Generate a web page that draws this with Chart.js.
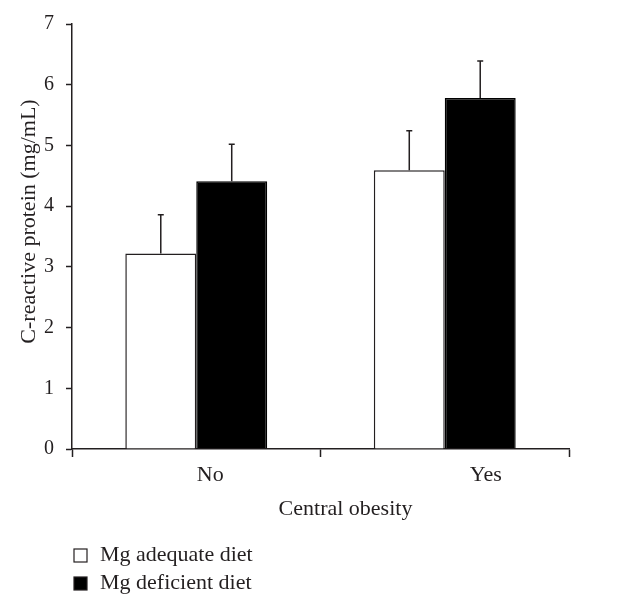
<!DOCTYPE html>
<html>
<head>
<meta charset="utf-8">
<script src="https://cdn.jsdelivr.net/npm/chart.js@4.4.0/dist/chart.umd.min.js"></script>
<style>
    html, body { margin: 0; padding: 0; background: #fff; }
    #wrap { width: 638px; height: 607px; }
</style>
</head>
<body>
<div id="wrap"><canvas id="crpChart" width="638" height="607"></canvas></div>
<script>
// Data
const categories = ['No', 'Yes'];
const seriesNames = ['Mg adequate diet', 'Mg deficient diet'];
const adequateMeans = [3.22, 4.59];
const adequateErrors = [0.64, 0.65];
const deficientMeans = [4.41, 5.78];
const deficientErrors = [0.61, 0.61];
const yTicks = [0, 1, 2, 3, 4, 5, 6, 7];

const yTitle = 'C-reactive protein (mg/mL)';
const xTitle = 'Central obesity';

const FONT = "'Liberation Serif', 'Times New Roman', serif";
const INK = '#231f20';

// Error bars (upper only, with a small cap)
const errorBarPlugin = {
    id: 'errorBars',
    afterDatasetsDraw(chart) {
        const ctx = chart.ctx;
        const yScale = chart.scales.y;
        ctx.save();
        ctx.strokeStyle = INK;
        ctx.lineWidth = 1.5;
        chart.data.datasets.forEach((ds, di) => {
            const meta = chart.getDatasetMeta(di);
            meta.data.forEach((bar, i) => {
                const top = yScale.getPixelForValue(ds.data[i] + ds.errors[i]);
                ctx.beginPath();
                ctx.moveTo(bar.x, bar.y);
                ctx.lineTo(bar.x, top);
                ctx.moveTo(bar.x - 3, top);
                ctx.lineTo(bar.x + 3, top);
                ctx.stroke();
            });
        });
        ctx.restore();
    }
};

// Axis titles, category labels and the stacked legend
const labelShift = [14, 41];
const textPlugin = {
    id: 'axisText',
    afterDraw(chart) {
        const ctx = chart.ctx;
        const area = chart.chartArea;
        const xScale = chart.scales.x;
        ctx.save();
        ctx.fillStyle = INK;
        ctx.font = '22px ' + FONT;
        ctx.textAlign = 'center';
        ctx.textBaseline = 'middle';

        categories.forEach((c, i) => {
            ctx.fillText(c, xScale.getPixelForValue(i) + labelShift[i], area.bottom + 26);
        });
        ctx.fillText(xTitle, (area.left + area.right) / 2 + 25, area.bottom + 60);

        ctx.save();
        ctx.translate(29, (area.top + area.bottom) / 2 - 15);
        ctx.rotate(-Math.PI / 2);
        ctx.fillText(yTitle, 0, 0);
        ctx.restore();

        // legend
        ctx.textAlign = 'left';
        chart.data.datasets.forEach((ds, i) => {
            const y = 555 + i * 28;
            ctx.fillStyle = ds.backgroundColor;
            ctx.fillRect(74, y - 6, 13, 13);
            ctx.strokeStyle = INK;
            ctx.lineWidth = 1.2;
            ctx.strokeRect(74, y - 6, 13, 13);
            ctx.fillStyle = INK;
            ctx.fillText(ds.label, 100, y);
        });
        ctx.restore();
    }
};

const ctx = document.getElementById('crpChart').getContext('2d');
const crpChart = new Chart(ctx, {
    type: 'bar',
    data: {
        labels: categories,
        datasets: [{
            label: seriesNames[0],
            data: adequateMeans,
            errors: adequateErrors,
            backgroundColor: '#ffffff',
            borderColor: INK,
            borderWidth: 1.5
        }, {
            label: seriesNames[1],
            data: deficientMeans,
            errors: deficientErrors,
            backgroundColor: '#000000',
            borderColor: '#000000',
            borderWidth: 1.5
        }]
    },
    options: {
        responsive: false,
        animation: false,
        layout: {
            padding: { top: 23, right: 69, left: 0, bottom: 0 }
        },
        categoryPercentage: 0.571,
        barPercentage: 1.0,
        plugins: {
            legend: { display: false },
            tooltip: { enabled: false }
        },
        scales: {
            x: {
                grid: {
                    offset: true,
                    drawOnChartArea: false,
                    drawTicks: true,
                    tickLength: 8,
                    tickWidth: 1.5,
                    tickColor: INK
                },
                border: { display: true, color: INK, width: 1.5 },
                ticks: { display: false },
                afterFit(scale) { scale.height = 158; }
            },
            y: {
                min: 0,
                max: 7,
                afterBuildTicks(scale) {
                    scale.ticks = yTicks.map(v => ({ value: v }));
                },
                grid: {
                    drawOnChartArea: false,
                    drawTicks: true,
                    tickLength: 6,
                    tickWidth: 1.5,
                    tickColor: INK
                },
                border: { display: true, color: INK, width: 1.5 },
                ticks: {
                    color: INK,
                    padding: 12,
                    font: { family: FONT, size: 20 }
                },
                afterFit(scale) { scale.width = 72; }
            }
        }
    },
    plugins: [errorBarPlugin, textPlugin]
});
</script>
</body>
</html>
